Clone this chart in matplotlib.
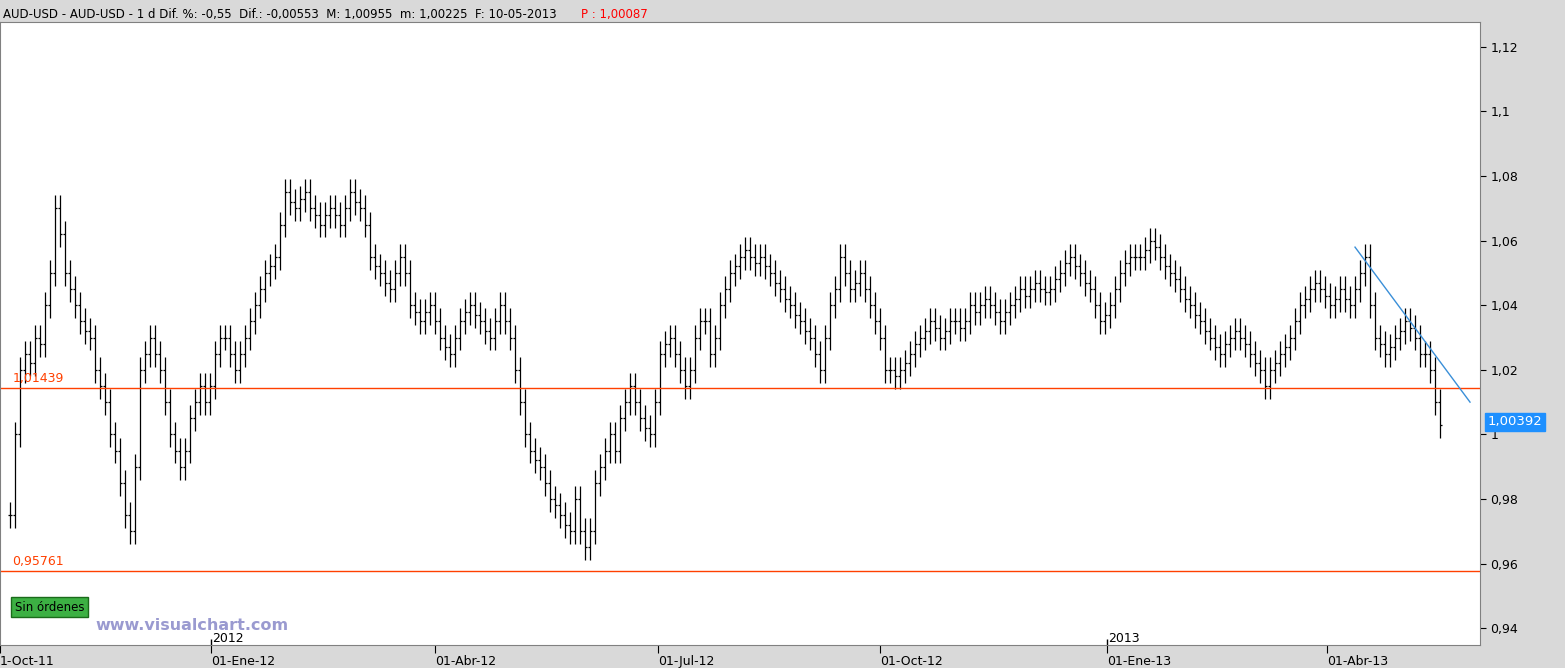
import matplotlib.pyplot as plt
from matplotlib.ticker import FuncFormatter

# closes, roughly every 1.5 trading days
closes = [
    0.975, 1.000, 1.020, 1.025, 1.022, 1.030, 1.028, 1.040, 1.050, 1.070,
    1.062, 1.050, 1.045, 1.040, 1.035, 1.032, 1.030, 1.020, 1.015, 1.010,
    1.000, 0.995, 0.985, 0.975, 0.970, 0.990, 1.020, 1.025, 1.030, 1.025,
    1.020, 1.010, 1.000, 0.995, 0.990, 0.995, 1.005, 1.010, 1.015, 1.010,
    1.015, 1.025, 1.030, 1.030, 1.025, 1.020, 1.025, 1.030, 1.035, 1.040,
    1.045, 1.050, 1.052, 1.055, 1.065, 1.075, 1.072, 1.070, 1.073, 1.075,
    1.070, 1.068, 1.065, 1.068, 1.070, 1.068, 1.065, 1.070, 1.075, 1.072,
    1.070, 1.065, 1.055, 1.052, 1.050, 1.047, 1.045, 1.050, 1.055, 1.050,
    1.040, 1.038, 1.035, 1.038, 1.040, 1.035, 1.030, 1.027, 1.025, 1.030,
    1.035, 1.038, 1.040, 1.037, 1.035, 1.032, 1.030, 1.035, 1.040, 1.035,
    1.030, 1.020, 1.010, 1.000, 0.995, 0.992, 0.990, 0.985, 0.980, 0.978,
    0.975, 0.972, 0.970, 0.980, 0.970, 0.965, 0.970, 0.985, 0.990, 0.995,
    1.000, 0.995, 1.005, 1.010, 1.015, 1.010, 1.005, 1.002, 1.000, 1.010,
    1.025, 1.028, 1.030, 1.025, 1.020, 1.015, 1.020, 1.030, 1.035, 1.035,
    1.025, 1.030, 1.040, 1.045, 1.050, 1.052, 1.055, 1.057, 1.055, 1.053,
    1.055, 1.052, 1.050, 1.047, 1.045, 1.042, 1.040, 1.037, 1.035, 1.032,
    1.030, 1.025, 1.020, 1.030, 1.040, 1.045, 1.055, 1.050, 1.045, 1.047,
    1.050, 1.045, 1.040, 1.035, 1.030, 1.020, 1.020, 1.018, 1.020, 1.022,
    1.025, 1.028, 1.030, 1.032, 1.035, 1.033, 1.030, 1.032, 1.035, 1.035,
    1.033, 1.035, 1.040, 1.038, 1.040, 1.042, 1.040, 1.038, 1.035, 1.038,
    1.040, 1.042, 1.045, 1.043, 1.045, 1.047, 1.045, 1.044, 1.045, 1.048,
    1.050, 1.053, 1.055, 1.052, 1.050, 1.047, 1.045, 1.040, 1.035, 1.037,
    1.040, 1.045, 1.050, 1.053, 1.055, 1.055, 1.055, 1.057, 1.060, 1.058,
    1.055, 1.052, 1.050, 1.048, 1.045, 1.042, 1.040, 1.037, 1.035, 1.032,
    1.030, 1.027, 1.025, 1.028, 1.030, 1.032, 1.030, 1.028, 1.025, 1.022,
    1.020, 1.015, 1.020, 1.022, 1.025, 1.027, 1.030, 1.035, 1.040, 1.042,
    1.045, 1.047, 1.045, 1.043, 1.040, 1.042, 1.045, 1.042, 1.040, 1.045,
    1.050, 1.055, 1.040, 1.030, 1.028, 1.025, 1.027, 1.030, 1.032, 1.035,
    1.033, 1.030, 1.025, 1.025, 1.020, 1.010, 1.003,
]
tick_pos = [-2, 40.2, 85, 129.6, 174, 219.4, 263.4]
tick_labels = ['1-Oct-11', '01-Ene-12', '01-Abr-12', '01-Jul-12', '01-Oct-12', '01-Ene-13', '01-Abr-13']
year_pos = [40.2, 219.4]
year_labels = ['2012', '2013']
support_levels = [1.01439, 0.95761]
support_labels = ['1,01439', '0,95761']
trend_x = [269, 292]
trend_y = [1.058, 1.010]
last_price = 1.00392

fig = plt.figure(figsize=(15.65, 6.68), dpi=100, facecolor='#d9d9d9')
ax = fig.add_axes([0.0, 0.034, 0.9457, 0.933])
ax.set_facecolor('white')

half = 0.004
prev = closes[0]
for i, c in enumerate(closes):
    o = prev
    hi = max(o, c) + half
    lo = min(o, c) - half
    ax.vlines(i, lo, hi, color='black', lw=0.9)
    ax.hlines(o, i - 0.35, i, color='black', lw=0.9)
    ax.hlines(c, i, i + 0.35, color='black', lw=0.9)
    prev = c

for lvl, lab in zip(support_levels, support_labels):
    ax.axhline(lvl, color='#ff4000', lw=1)
    ax.text(0.5, lvl + 0.001, lab, color='#ff4000', fontsize=9, va='bottom')

ax.plot(trend_x, trend_y, color='#3a8fd8', lw=1)

ax.set_xlim(-2, 294)
ax.set_ylim(0.9347, 1.1277)
ax.yaxis.tick_right()
ax.set_yticks([0.94, 0.96, 0.98, 1.0, 1.02, 1.04, 1.06, 1.08, 1.1, 1.12])
ax.yaxis.set_major_formatter(FuncFormatter(lambda v, p: f'{v:g}'.replace('.', ',')))
ax.tick_params(axis='y', labelsize=9, length=4, direction='out')
ax.set_xticks(tick_pos)
ax.set_xticklabels(tick_labels, fontsize=9, ha='left')
ax.tick_params(axis='x', length=6, pad=1)
for s in ax.spines.values():
    s.set_color('#808080')

for p, lab in zip(year_pos, year_labels):
    ax.vlines(p, 0.9347, 0.9367, color='black', lw=1)
    ax.text(p + 0.3, 0.9349, lab, fontsize=9, va='bottom')

ax.text(295.5, last_price, '1,00392', fontsize=9.5, color='white', va='center',
        bbox=dict(boxstyle='square,pad=0.2', fc='#1e90ff', ec='#1e90ff'), clip_on=False)
ax.text(1, 0.9465, 'Sin órdenes', fontsize=8.5, va='center',
        bbox=dict(boxstyle='square,pad=0.3', fc='#3cb043', ec='#1a6b1a'))
ax.text(17, 0.9408, 'www.visualchart.com', fontsize=11.5, fontweight='bold', color='#9a9ad0', va='center')

fig.text(0.002, 0.978, 'AUD-USD - AUD-USD - 1 d Dif. %: -0,55  Dif.: -0,00553  M: 1,00955  m: 1,00225  F: 10-05-2013',
         fontsize=8.5, va='center')
fig.text(0.371, 0.978, 'P : 1,00087', fontsize=8.5, color='red', va='center')

fig.savefig('out.png', dpi=100, facecolor=fig.get_facecolor())
